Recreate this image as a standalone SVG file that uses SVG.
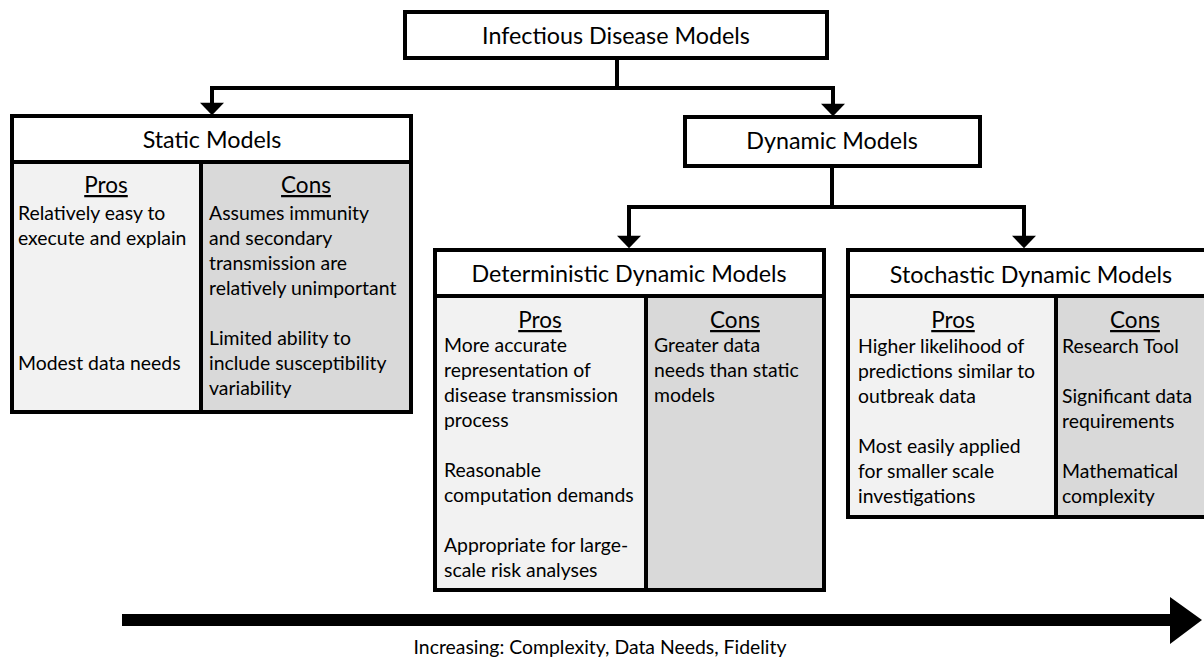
<svg xmlns="http://www.w3.org/2000/svg" width="1204" height="660" viewBox="0 0 1204 660">
<style>
.bx{fill:none;stroke:#000;stroke-width:4}
.hd{fill:#fff}
.pro{fill:#f2f2f2}
.con{fill:#d9d9d9}
.ln{stroke:#000;stroke-width:4;fill:none}
.h{font-family:Lato,"Open Sans",sans-serif;font-size:23.3px;text-anchor:middle;fill:#000}
.pc{font-family:Lato,"Open Sans",sans-serif;font-size:22.5px;text-anchor:middle;text-decoration:underline;fill:#000}
.t{font-family:Lato,"Open Sans",sans-serif;font-size:19.4px;fill:#000}
.c{stroke:#000;stroke-width:4;fill:none;stroke-linejoin:miter}
</style>
<defs>
<marker id="ah" markerUnits="userSpaceOnUse" markerWidth="14" markerHeight="24" viewBox="0 0 12 23" refX="6" refY="11.5" orient="auto">
<path d="M0,0 L12,11.5 L0,23 Z" fill="#000"/>
</marker>
</defs>
<g id="connectors">
<path class="c" d="M617,58 V88 H212 V109" marker-end="url(#ah)"/>
<path class="c" d="M617,88 H833 V110" marker-end="url(#ah)"/>
<path class="c" d="M832,166 V207 H629 V242" marker-end="url(#ah)"/>
<path class="c" d="M832,207 H1024 V242" marker-end="url(#ah)"/>
</g>
<g id="root">
<rect class="hd" x="405" y="12" width="422" height="46"/>
<rect class="bx" x="405" y="12" width="422" height="46"/>
<text class="h" x="616" y="44">Infectious Disease Models</text>
</g>
<g id="static">
<rect class="hd" x="12" y="116" width="399" height="46"/>
<rect class="pro" x="12" y="162" width="189" height="250"/>
<rect class="con" x="201" y="162" width="210" height="250"/>
<path class="ln" d="M12,162 H411 M201,162 V412"/>
<rect class="bx" x="12" y="116" width="399" height="296"/>
<text class="h" x="212" y="148">Static Models</text>
<text class="pc" x="106" y="193">Pros</text>
<text class="pc" x="306" y="193">Cons</text>
<text class="t" x="18" y="220">Relatively easy to</text>
<text class="t" x="18" y="245">execute and explain</text>
<text class="t" x="18" y="370">Modest data needs</text>
<text class="t" x="209" y="220">Assumes immunity</text>
<text class="t" x="209" y="245">and secondary</text>
<text class="t" x="209" y="270">transmission are</text>
<text class="t" x="209" y="295">relatively unimportant</text>
<text class="t" x="209" y="345">Limited ability to</text>
<text class="t" x="209" y="370">include susceptibility</text>
<text class="t" x="209" y="395">variability</text>
</g>
<g id="dynamic">
<rect class="hd" x="685" y="117" width="295" height="49"/>
<rect class="bx" x="685" y="117" width="295" height="49"/>
<text class="h" x="832" y="149">Dynamic Models</text>
</g>
<g id="deterministic">
<rect class="hd" x="435" y="250" width="389" height="46"/>
<rect class="pro" x="435" y="296" width="211" height="294"/>
<rect class="con" x="646" y="296" width="178" height="294"/>
<path class="ln" d="M435,296 H824 M646,296 V590"/>
<rect class="bx" x="435" y="250" width="389" height="340"/>
<text class="h" x="629" y="282">Deterministic Dynamic Models</text>
<text class="pc" x="540" y="328">Pros</text>
<text class="pc" x="735" y="328">Cons</text>
<text class="t" x="444" y="352">More accurate</text>
<text class="t" x="444" y="377">representation of</text>
<text class="t" x="444" y="402">disease transmission</text>
<text class="t" x="444" y="427">process</text>
<text class="t" x="444" y="477">Reasonable</text>
<text class="t" x="444" y="502">computation demands</text>
<text class="t" x="444" y="552">Appropriate for large-</text>
<text class="t" x="444" y="577">scale risk analyses</text>
<text class="t" x="654" y="352">Greater data</text>
<text class="t" x="654" y="377">needs than static</text>
<text class="t" x="654" y="402">models</text>
</g>
<g id="stochastic">
<rect class="hd" x="848" y="250" width="366" height="46"/>
<rect class="pro" x="848" y="296" width="208" height="221"/>
<rect class="con" x="1056" y="296" width="158" height="221"/>
<path class="ln" d="M848,296 H1214 M1056,296 V517"/>
<rect class="bx" x="848" y="250" width="366" height="267"/>
<text class="h" x="1031" y="283">Stochastic Dynamic Models</text>
<text class="pc" x="953" y="328">Pros</text>
<text class="pc" x="1135" y="328">Cons</text>
<text class="t" x="858" y="353">Higher likelihood of</text>
<text class="t" x="858" y="378">predictions similar to</text>
<text class="t" x="858" y="403">outbreak data</text>
<text class="t" x="858" y="453">Most easily applied</text>
<text class="t" x="858" y="478">for smaller scale</text>
<text class="t" x="858" y="503">investigations</text>
<text class="t" x="1062" y="353">Research Tool</text>
<text class="t" x="1062" y="403">Significant data</text>
<text class="t" x="1062" y="428">requirements</text>
<text class="t" x="1062" y="478">Mathematical</text>
<text class="t" x="1062" y="503">complexity</text>
</g>
<g id="trend">
<polygon points="122,614 1170,614 1170,597 1202,620 1170,644 1170,626 122,626" fill="#000"/>
<text class="t" x="600" y="654" text-anchor="middle">Increasing: Complexity, Data Needs, Fidelity</text>
</g>
</svg>
